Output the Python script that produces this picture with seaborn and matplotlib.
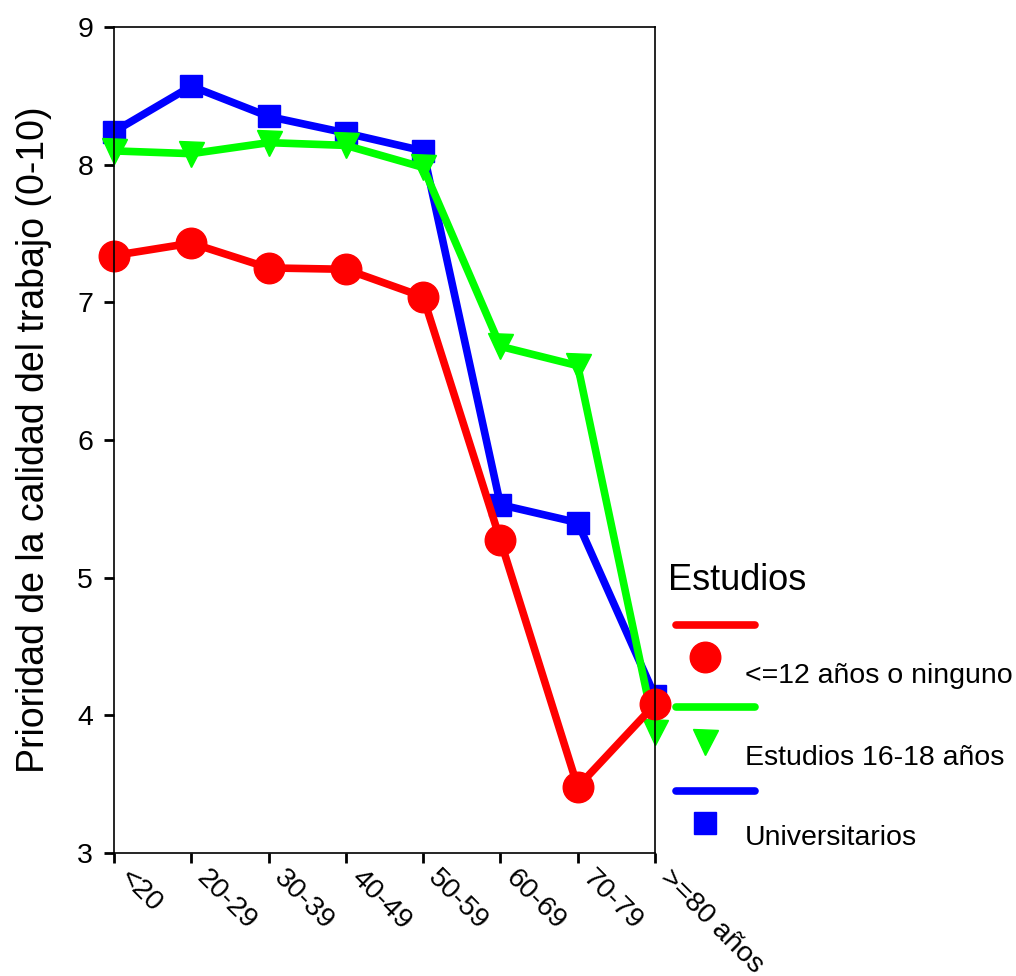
import matplotlib
matplotlib.use("Agg")
import matplotlib.pyplot as plt
from matplotlib.lines import Line2D
import seaborn as sns
import pandas as pd

categories = ["<20", "20-29", "30-39", "40-49", "50-59", "60-69", "70-79", ">=80 años"]
series_names = ["<=12 años o ninguno", "Estudios 16-18 años", "Universitarios"]
red_vals = [7.34, 7.43, 7.25, 7.24, 7.04, 5.27, 3.48, 4.08]
green_vals = [8.10, 8.08, 8.16, 8.14, 7.98, 6.68, 6.54, 3.88]
blue_vals = [8.24, 8.57, 8.35, 8.23, 8.10, 5.53, 5.40, 4.14]
yticks = [3, 4, 5, 6, 7, 8, 9]

sns.set_style("white")
plt.rcParams['font.family'] = ['Liberation Sans', 'DejaVu Sans']
plt.rcParams['text.color'] = 'black'
plt.rcParams['xtick.color'] = 'black'
plt.rcParams['ytick.color'] = 'black'
plt.rcParams['axes.labelcolor'] = 'black'

colors = {"<=12 años o ninguno": "#ff0000", "Estudios 16-18 años": "#00ff00", "Universitarios": "#0000ff"}
markers = {"<=12 años o ninguno": "o", "Estudios 16-18 años": "v", "Universitarios": "s"}
msizes = {"<=12 años o ninguno": 22, "Estudios 16-18 años": 18, "Universitarios": 16}

frames = []
for name, vals in zip(series_names, [red_vals, green_vals, blue_vals]):
    frames.append(pd.DataFrame({"Edad": categories, "Valor": vals, "Estudios": name}))
df = pd.concat(frames, ignore_index=True)

fig = plt.figure(figsize=(10.16, 9.76), dpi=100)
ax = fig.add_axes([114 / 1016, 1 - 853 / 976, (655 - 114) / 1016, (853 - 27) / 976])

# draw order: blue, green, red (red on top)
for name in ["Universitarios", "Estudios 16-18 años", "<=12 años o ninguno"]:
    sub = df[df["Estudios"] == name]
    sns.lineplot(data=sub, x="Edad", y="Valor", ax=ax, color=colors[name],
                 marker=markers[name], markersize=msizes[name], linewidth=5.5,
                 markeredgecolor=colors[name], markeredgewidth=1, legend=False,
                 sort=False, clip_on=False)

ax.set_xlim(0, len(categories) - 1)
ax.set_ylim(3, 9)
ax.set_yticks(yticks)
ax.set_yticklabels([str(t) for t in yticks], fontsize=20.5)
ax.set_xticks(range(len(categories)))
ax.set_xticklabels(categories, fontsize=20.5, rotation=-45, ha='left', va='bottom',
                   rotation_mode='anchor')
ax.set_xlabel("")
ax.set_ylabel("Prioridad de la calidad del trabajo (0-10)", fontsize=27, labelpad=18)
ax.tick_params(axis='both', direction='out', length=7, width=2, color='black',
               left=True, bottom=True)
ax.tick_params(axis='y', pad=8)
ax.tick_params(axis='x', pad=15)
for s in ax.spines.values():
    s.set_color('black')
    s.set_linewidth(1.2)

# legend in SPSS style
fig.text(668 / 1016, 1 - 580 / 976, "Estudios", fontsize=26, ha='left', va='center')
rows = [(625, 657, 676), (707, 742, 758), (791, 823, 838)]
for name, (ly, my, ty) in zip(series_names, rows):
    c = colors[name]
    fig.add_artist(Line2D([676 / 1016, 755 / 1016], [1 - ly / 976, 1 - ly / 976],
                          transform=fig.transFigure, color=c, linewidth=5.5))
    fig.add_artist(Line2D([705 / 1016], [1 - my / 976], transform=fig.transFigure,
                          color=c, marker=markers[name], markersize=msizes[name],
                          markeredgecolor=c, linestyle='none'))
    fig.text(745 / 1016, 1 - ty / 976, name, fontsize=20.5, ha='left', va='center')

fig.savefig("out.png", dpi=100)
